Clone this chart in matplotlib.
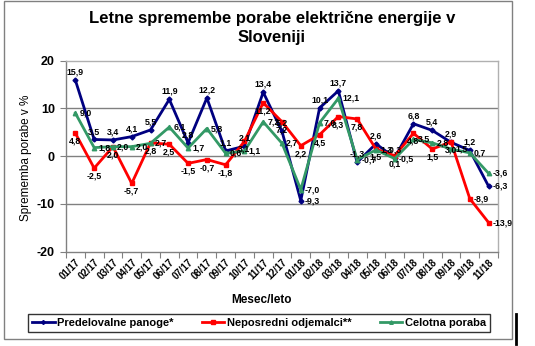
import matplotlib

matplotlib.use("Agg")
import matplotlib.pyplot as plt
from matplotlib.lines import Line2D
from matplotlib.patches import Rectangle
import numpy as np

plt.rcParams['font.family'] = ['Liberation Sans', 'DejaVu Sans']

# --- podatki ---
meseci = ['01/17', '02/17', '03/17', '04/17', '05/17', '06/17', '07/17', '08/17',
          '09/17', '10/17', '11/17', '12/17', '01/18', '02/18', '03/18', '04/18',
          '05/18', '06/18', '07/18', '08/18', '09/18', '10/18', '11/18']

predelovalne = [15.9, 3.5, 3.4, 4.1, 5.5, 11.9, 2.8, 12.2, 1.1, 2.1, 13.4, 5.2,
                -9.3, 10.1, 13.7, -1.3, 2.6, -0.3, 6.8, 5.4, 2.9, 1.2, -6.3]
neposredni = [4.8, -2.5, 2.0, -5.7, 2.8, 2.5, -1.5, -0.7, -1.8, 3.1, 11.2, 7.2,
              2.2, 4.5, 8.3, 7.8, 1.5, 0.1, 4.8, 1.5, 3.0, -8.9, -13.9]
celotna = [9.0, 1.8, 2.0, 2.0, 2.7, 6.1, 1.7, 5.8, 0.6, 1.1, 7.2, 2.7,
           -7.0, 7.0, 12.1, -0.7, 1.3, -0.5, 3.5, 2.8, 1.5, 0.7, -3.6]

# ime, vrednosti, barva, marker, velikost, položaj oznak
serije = [
    ('Predelovalne panoge*', predelovalne, '#000080', 'D', 2.5, 'nad'),
    ('Neposredni odjemalci**', neposredni, '#FF0000', 's', 2.8, 'pod'),
    ('Celotna poraba', celotna, '#339966', '^', 3.2, 'desno'),
]

POLOZAJ = {
    'nad': dict(xytext=(0, 2.5), ha='center', va='bottom'),
    'pod': dict(xytext=(0, -2.5), ha='center', va='top'),
    'desno': dict(xytext=(3, 0), ha='left', va='center'),
}

W, H = 535, 346
fig = plt.figure(figsize=(W / 100, H / 100), dpi=100)
fig.patch.set_facecolor('white')

# okvir grafikona
fig.add_artist(Rectangle((4 / W, 1 - 339 / H), 508 / W, 338 / H, transform=fig.transFigure,
                         fill=False, edgecolor='#808080', linewidth=1.0))
fig.add_artist(Line2D([516 / W, 516 / W], [1 - 344 / H, 1 - 314 / H], transform=fig.transFigure,
                      color='black', linewidth=2.0))

ax = fig.add_axes([66 / W, 1 - 251.7 / H, 432 / W, 191 / H])
x = np.arange(len(meseci))
n = len(meseci)

for ime, vals, barva, marker, ms, pol in serije:
    ax.plot(x, vals, color=barva, linewidth=2.0, marker=marker, markersize=ms,
            markerfacecolor=barva, markeredgecolor=barva, label=ime, zorder=3)
    for xi, v in zip(x, vals):
        p = pol
        # negativni skrajni konci dobijo oznako desno od točke
        if v < -5 and xi >= n - 2 or v < -8:
            p = 'desno'
        ax.annotate(f"{v:.1f}".replace('.', ','), (xi, v), textcoords='offset points',
                    fontsize=6.3, fontweight='bold', color='black', zorder=5, **POLOZAJ[p])

ax.set_xlim(-0.5, n - 0.5)
ax.set_ylim(-20, 20)
ax.set_yticks([-20, -10, 0, 10, 20])
ax.set_yticklabels(['-20', '-10', '0', '10', '20'], fontsize=9, fontweight='bold')
ax.tick_params(axis='y', direction='out', length=4, width=0.8, color='#808080', pad=4)
for yv in (-10, 0, 10):
    ax.axhline(yv, color='#808080', linewidth=1.0, zorder=1)

ax.set_xticks(x)
ax.set_xticklabels(meseci, rotation=45, ha='right', va='top', rotation_mode='anchor',
                   fontsize=7, fontweight='bold')
ax.set_xticks(np.arange(-0.5, n, 1), minor=True)
ax.tick_params(axis='x', which='major', length=0, pad=4)
ax.tick_params(axis='x', which='minor', direction='out', length=4, width=0.8, color='#808080')

for s in ('left', 'bottom'):
    ax.spines[s].set_color('#808080')
    ax.spines[s].set_linewidth(1.0)
for s in ('top', 'right'):
    ax.spines[s].set_color('#b0b0b0')
    ax.spines[s].set_linewidth(1.0)

fig.text(272 / W, 1 - 28 / H, 'Letne spremembe porabe električne energije v\nSloveniji',
         ha='center', va='center', fontsize=12, fontweight='bold', linespacing=1.3)
fig.text(26 / W, 1 - 158 / H, 'Sprememba porabe v %', rotation=90, ha='center', va='center',
         fontsize=8.5)
fig.text(262 / W, 1 - 300 / H, 'Mesec/leto', ha='center', va='center', fontsize=8.5,
         fontweight='bold')

leg = fig.legend(loc='center', bbox_to_anchor=(259 / W, 1 - 323 / H), ncol=3, frameon=True,
                 fancybox=False, edgecolor='black', fontsize=8, handlelength=2.0,
                 handletextpad=0.2, columnspacing=2.6, borderpad=0.35, markerscale=0.8)
leg.get_frame().set_linewidth(1.0)
for t in leg.get_texts():
    t.set_fontweight('bold')

fig.savefig('out.png', dpi=100, facecolor='white')
